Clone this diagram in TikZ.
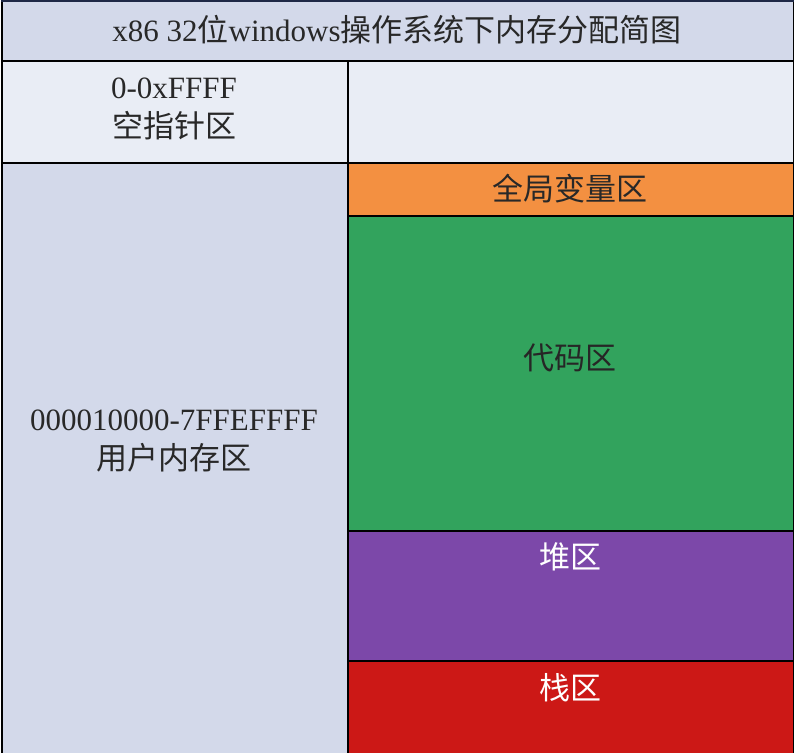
\documentclass[tikz,border=0pt]{standalone}
\usepackage{fontspec}
\setmainfont{Liberation Serif}
\newfontfamily\cjk{Noto Sans CJK SC}
\definecolor{hdr}{RGB}{211,217,234}
\definecolor{lite}{RGB}{233,237,245}
\definecolor{orng}{RGB}{243,144,65}
\definecolor{grn}{RGB}{50,163,93}
\definecolor{purp}{RGB}{124,72,169}
\definecolor{redc}{RGB}{204,24,22}
\definecolor{navy}{RGB}{30,40,70}
\definecolor{txt}{RGB}{40,40,40}
\begin{document}
\begin{tikzpicture}[x=1pt,y=-1pt,
  cell/.style={draw=black,line width=1.5pt,inner sep=0pt,anchor=north west},
  lbl/.style={inner sep=0pt,font=\fontsize{31}{38}\selectfont,text=txt},
  zh/.style={lbl,font=\fontsize{31}{38}\selectfont\cjk}]
\useasboundingbox (0,0) rectangle (794,752);
% cells
\node[cell,fill=hdr,minimum width=792pt,minimum height=59pt] (title) at (1,1) {};
\node[cell,fill=lite,minimum width=346pt,minimum height=102pt] (nullc) at (1,60) {};
\node[cell,fill=lite,minimum width=446pt,minimum height=102pt] (blank) at (347,60) {};
\node[cell,fill=hdr,minimum width=346pt,minimum height=600pt] (user) at (1,162) {};
\node[cell,fill=orng,minimum width=446pt,minimum height=53pt] (glob) at (347,162) {};
\node[cell,fill=grn,minimum width=446pt,minimum height=315pt] (code) at (347,215) {};
\node[cell,fill=purp,minimum width=446pt,minimum height=130pt] (heap) at (347,530) {};
\node[cell,fill=redc,minimum width=446pt,minimum height=100pt] (stack) at (347,660) {};
\draw[navy,line width=2pt] (title.north west) -- (title.north east);
% texts
\node[lbl] (titletxt) at (397,30) {x86 32{\cjk 位}windows{\cjk 操作系统下内存分配简图}};
\node[lbl] (nullt1) at (174,88) {0-0xFFFF};
\node[zh] (nullt2) at (174,126) {空指针区};
\node[lbl] (usert1) at (174,420) {000010000-7FFEFFFF};
\node[zh] (usert2) at (174,458) {用户内存区};
\node[zh] (globt) at (570,189) {全局变量区};
\node[zh,text=black!85] (codet) at (570,358) {代码区};
\node[zh,text=white] (heapt) at (570,557) {堆区};
\node[zh,text=white] (stackt) at (570,688) {栈区};
\end{tikzpicture}
\end{document}
